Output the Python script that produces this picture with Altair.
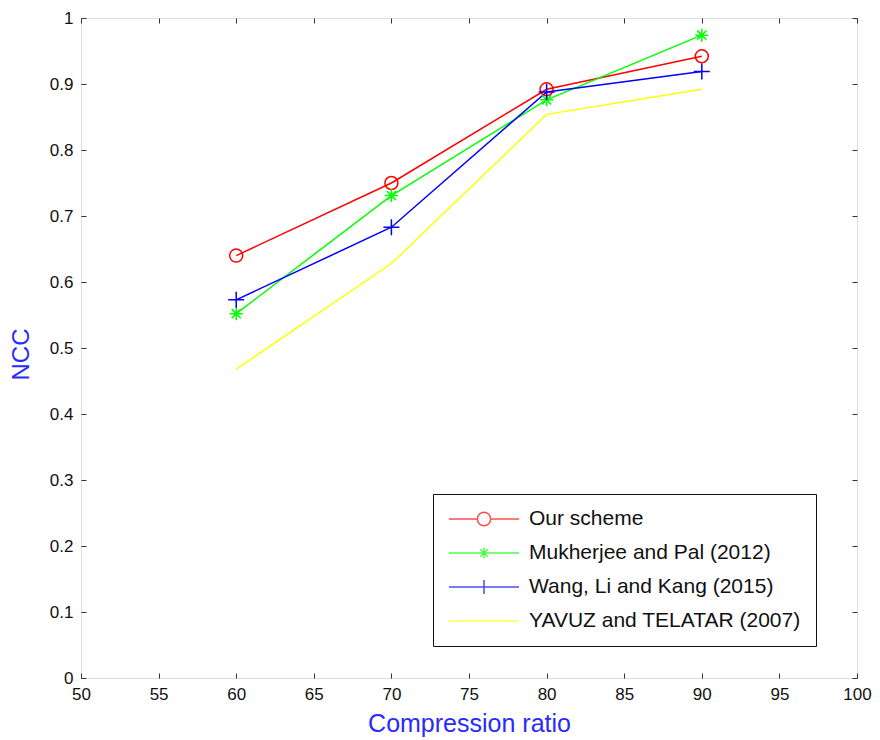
import altair as alt
import pandas as pd

# ---------------- data ----------------
series = ["Our scheme", "Mukherjee and Pal (2012)", "Wang, Li and Kang (2015)", "YAVUZ and TELATAR (2007)"]
colors = ["#ff0000", "#00ff00", "#0000ff", "#ffff00"]
ratio = [60, 70, 80, 90]
our_scheme = [0.640, 0.750, 0.892, 0.942]
mukherjee = [0.552, 0.731, 0.876, 0.974]
wang = [0.573, 0.683, 0.888, 0.919]
yavuz = [0.468, 0.628, 0.854, 0.892]
x_ticks = [50, 55, 60, 65, 70, 75, 80, 85, 90, 95, 100]
y_ticks = [0, 0.1, 0.2, 0.3, 0.4, 0.5, 0.6, 0.7, 0.8, 0.9, 1]

rows = []
for name, vals in zip(series, [our_scheme, mukherjee, wang, yavuz]):
    for r, v in zip(ratio, vals):
        rows.append({"ratio": r, "ncc": v, "series": name})
df = pd.DataFrame(rows)

# ---------------- styling ----------------
W, H = 776, 660
PAD_L, PAD_T = 73, 10
FONT = "Liberation Sans"
TXT = "#111111"
TITLE_BLUE = "#2a2aff"
TICK = "#333333"

xs = alt.Scale(domain=[50, 100], nice=False, zero=False)
ys = alt.Scale(domain=[0, 1], nice=False, zero=False)
cs = alt.Scale(domain=series, range=colors)

STAR = "M-1,0H1M0,-1V1M-0.7,-0.7L0.7,0.7M-0.7,0.7L0.7,-0.7"
PLUS = "M-1,0H1M0,-1V1"
r = 0.19
LG_CIRCLE = (f"M-1,0H-{r}M{r},0H1M-{r},0A{r},{r},0,1,1,{r},0A{r},{r},0,1,1,-{r},0")
a, d = 0.15, 0.105
LG_STAR = f"M-1,0H1M0,-{a}V{a}M-{d},-{d}L{d},{d}M-{d},{d}L{d},-{d}"
LG_PLUS = "M-1,0H1M0,-0.2V0.2"
LG_LINE = "M-1,0H1"
lg_paths = [LG_CIRCLE, LG_STAR, LG_PLUS, LG_LINE]

x_main = alt.Axis(values=x_ticks, orient="bottom", ticks=False, domain=False, grid=False,
                  labelFontSize=17, labelColor=TXT, labelPadding=8, labelFont=FONT,
                  labelFlush=False,
                  title="Compression ratio", titleFontSize=25, titleColor=TITLE_BLUE,
                  titleFontWeight="normal", titleFont=FONT, titlePadding=9)
y_main = alt.Axis(values=y_ticks, orient="left", ticks=False, domain=False, grid=False,
                  labelFontSize=17, labelColor=TXT, labelPadding=8, labelFont=FONT,
                  labelFlush=False,
                  labelExpr="format(datum.value, '~g')",
                  title="NCC", titleFontSize=24, titleColor=TITLE_BLUE,
                  titleFontWeight="normal", titleFont=FONT, titlePadding=16, titleY=336)


def tick_axis(orient, offset, values):
    return alt.Axis(orient=orient, offset=offset, values=values, labels=False, domain=False,
                    grid=False, ticks=True, tickSize=5, tickColor=TICK, tickWidth=1, title=None)


legend_spec = dict(title=None, orient="none", legendX=433 - 8 - PAD_L, legendY=476, padding=15,
                   strokeColor="#111111", fillColor="white", cornerRadius=0,
                   labelFontSize=21, labelFont=FONT, labelColor=TXT, labelOffset=9,
                   labelLimit=0,
                   labelExpr="datum.label + '      '",
                   symbolSize=4900, symbolStrokeWidth=1.5, rowPadding=13, clipHeight=20,
                   symbolFillColor="transparent")
legend_layer = alt.Chart(df).transform_filter("false").mark_point(filled=False, strokeWidth=1.5).encode(
    x=alt.X("ratio:Q", scale=xs, axis=None),
    y=alt.Y("ncc:Q", scale=ys, axis=None),
    color=alt.Color("series:N", scale=cs, legend=alt.Legend(**legend_spec)),
    shape=alt.Shape("series:N", scale=alt.Scale(domain=series, range=lg_paths),
                    legend=alt.Legend(**legend_spec)),
)

lines = alt.Chart(df).mark_line(strokeWidth=1.5).encode(
    x=alt.X("ratio:Q", scale=xs, axis=x_main),
    y=alt.Y("ncc:Q", scale=ys, axis=y_main),
    color=alt.Color("series:N", scale=cs),
    order="ratio:Q",
)

marker_layers = []
for name, shape, size in [(series[0], "circle", 169), (series[1], STAR, 170), (series[2], PLUS, 256)]:
    marker_layers.append(
        alt.Chart(df).transform_filter(alt.datum.series == name)
        .mark_point(shape=shape, filled=False, size=size, strokeWidth=1.5, opacity=1)
        .encode(
            x=alt.X("ratio:Q", scale=xs, axis=None),
            y=alt.Y("ncc:Q", scale=ys, axis=None),
            color=alt.Color("series:N", scale=cs),
        )
    )

# inward ticks on all four sides of the box
ticks_a = alt.Chart(df).transform_filter("false").mark_point().encode(
    x=alt.X("ratio:Q", scale=xs, axis=tick_axis("top", -H, x_ticks)),
    y=alt.Y("ncc:Q", scale=ys, axis=tick_axis("right", -W, y_ticks)),
)
ticks_b = alt.Chart(df).transform_filter("false").mark_point().encode(
    x=alt.X("ratio:Q", scale=xs, axis=tick_axis("bottom", -H, x_ticks)),
    y=alt.Y("ncc:Q", scale=ys, axis=tick_axis("left", -W, y_ticks)),
)

chart = alt.layer(legend_layer, lines, *marker_layers, ticks_a, ticks_b).resolve_axis(
    x="independent", y="independent"
).properties(
    width=W, height=H,
    padding={"left": PAD_L, "top": PAD_T, "right": 864 - PAD_L - W, "bottom": 62},
    autosize=alt.AutoSizeParams(type="none"),
).configure_view(stroke="#262626", strokeWidth=1).configure(background="white")

chart.save("out.html", embed_options={"renderer": "svg", "actions": False})
